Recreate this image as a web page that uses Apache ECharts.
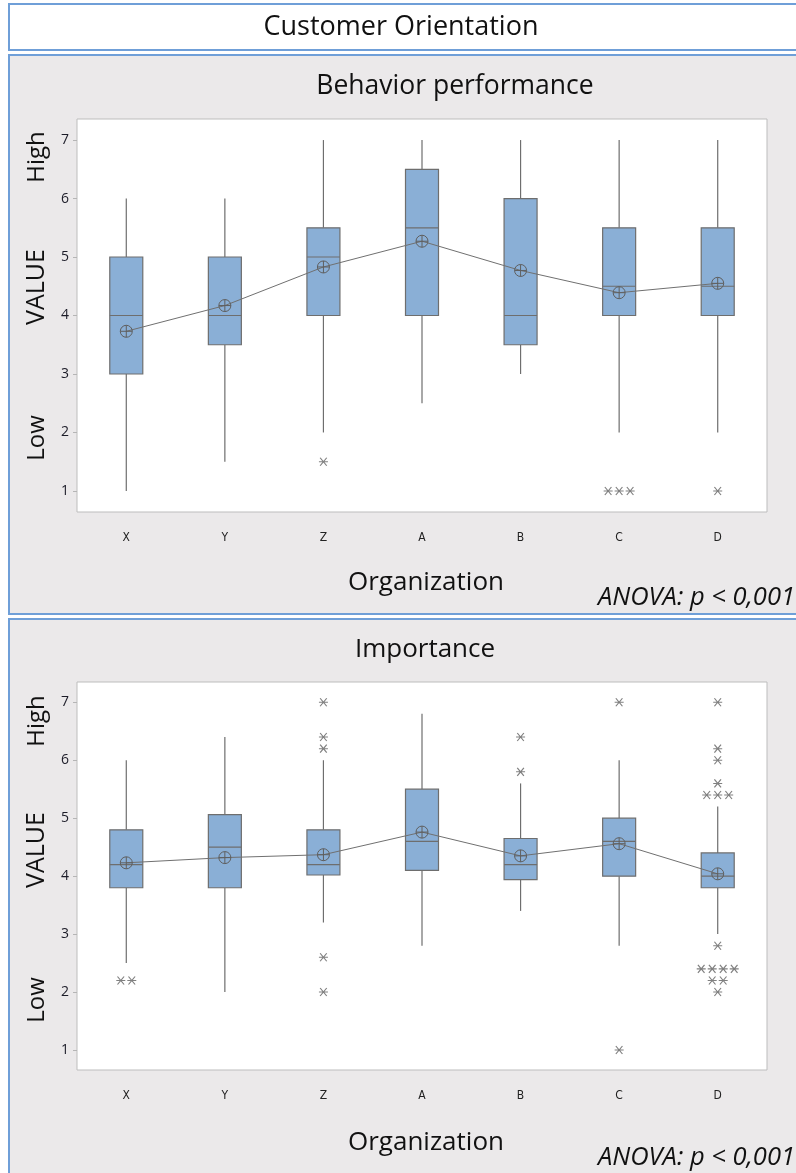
<!DOCTYPE html>
<html>
<head>
<meta charset="utf-8">
<title>Customer Orientation</title>
<script src="https://cdn.jsdelivr.net/npm/echarts@6/dist/echarts.min.js"></script>
<style>
    html, body { margin: 0; padding: 0; background: #fff; }
    #chart { width: 796px; height: 1173px; }
</style>
</head>
<body>
<div id="chart"></div>
<script>
// 数据
const organizations = ['X', 'Y', 'Z', 'A', 'B', 'C', 'D'];
const yTicks = [1, 2, 3, 4, 5, 6, 7];

// [min, Q1, median, Q3, max]
const perfBoxes = [
    [1, 3, 4, 5, 6],
    [1.5, 3.5, 4, 5, 6],
    [2, 4, 5, 5.5, 7],
    [2.5, 4, 5.5, 6.5, 7],
    [3, 3.5, 4, 6, 7],
    [2, 4, 4.5, 5.5, 7],
    [2, 4, 4.5, 5.5, 7]
];
const perfMeans = [3.73, 4.17, 4.83, 5.27, 4.77, 4.39, 4.55];
// [category index, value]
const perfOutliers = [[2, 1.5], [5, 1], [5, 1], [5, 1], [6, 1]];

const impBoxes = [
    [2.5, 3.8, 4.2, 4.8, 6],
    [2, 3.8, 4.5, 5.06, 6.4],
    [3.2, 4.02, 4.2, 4.8, 6],
    [2.8, 4.1, 4.6, 5.5, 6.8],
    [3.4, 3.94, 4.2, 4.65, 5.6],
    [2.8, 4, 4.6, 5, 6],
    [3, 3.8, 4, 4.4, 5.2]
];
const impMeans = [4.23, 4.32, 4.37, 4.76, 4.35, 4.56, 4.04];
const impOutliers = [
    [0, 2.2], [0, 2.2],
    [2, 7], [2, 6.4], [2, 6.2], [2, 2.6], [2, 2],
    [4, 6.4], [4, 5.8],
    [5, 7], [5, 1],
    [6, 7], [6, 6.2], [6, 6], [6, 5.6], [6, 5.4], [6, 5.4], [6, 5.4],
    [6, 2.8], [6, 2.4], [6, 2.4], [6, 2.4], [6, 2.4], [6, 2.2], [6, 2.2], [6, 2]
];

// 样式
const FONT = '"Open Sans", "Noto Sans", sans-serif';
const BORDER_BLUE = '#6f9fd8';
const PANEL_BG = '#ebe9ea';
const BOX_FILL = '#8aafd6';
const LINE_GREY = '#6e6e6e';
const BOX_WIDTH = 33;
const STAR = 'path://M-4.5,0L4.5,0M-3.3,-4L3.3,4M-3.3,4L3.3,-4';
const MEAN_SYMBOL = 'path://M-6,0A6,6 0 1,0 6,0A6,6 0 1,0 -6,0ZM-6,0L6,0M0,-6L0,6';

// 相同数值的异常值左右排开
function spreadOutliers(list) {
    const counts = {};
    list.forEach(p => { const k = p.join('_'); counts[k] = (counts[k] || 0) + 1; });
    const seen = {};
    return list.map(p => {
        const k = p.join('_');
        const n = counts[k];
        const i = seen[k] = (seen[k] === undefined ? 0 : seen[k] + 1);
        return { value: p, symbolOffset: [(i - (n - 1) / 2) * 11, 0] };
    });
}

// 箱线图（须线无端帽）
function renderBox(params, api) {
    const x = api.value(0);
    const lo = api.coord([x, api.value(1)]);
    const q1 = api.coord([x, api.value(2)]);
    const med = api.coord([x, api.value(3)]);
    const q3 = api.coord([x, api.value(4)]);
    const hi = api.coord([x, api.value(5)]);
    const cx = lo[0];
    const half = BOX_WIDTH / 2;
    const stroke = { stroke: LINE_GREY, lineWidth: 1.2 };
    return {
        type: 'group',
        children: [
            { type: 'line', shape: { x1: cx, y1: lo[1], x2: cx, y2: q1[1] }, style: stroke },
            { type: 'line', shape: { x1: cx, y1: q3[1], x2: cx, y2: hi[1] }, style: stroke },
            { type: 'rect', shape: { x: cx - half, y: q3[1], width: BOX_WIDTH, height: q1[1] - q3[1] }, style: { fill: BOX_FILL, stroke: LINE_GREY, lineWidth: 1.2 } },
            { type: 'line', shape: { x1: cx - half, y1: med[1], x2: cx + half, y2: med[1] }, style: stroke }
        ]
    };
}

function panelSeries(idx, boxes, means, outliers) {
    return [
        {
            type: 'custom',
            xAxisIndex: idx,
            yAxisIndex: idx,
            data: boxes.map((b, i) => [i].concat(b)),
            encode: { x: 0, y: [1, 2, 3, 4, 5] },
            renderItem: renderBox,
            z: 2
        },
        {
            type: 'line',
            xAxisIndex: idx,
            yAxisIndex: idx,
            data: means,
            symbol: MEAN_SYMBOL,
            symbolSize: 12,
            showAllSymbol: true,
            lineStyle: { color: '#707070', width: 1 },
            itemStyle: { color: 'transparent', borderColor: '#5f5f5f', borderWidth: 1 },
            emphasis: { disabled: true },
            z: 3
        },
        {
            type: 'scatter',
            xAxisIndex: idx,
            yAxisIndex: idx,
            data: spreadOutliers(outliers),
            symbol: STAR,
            symbolSize: [9, 8],
            itemStyle: { color: 'none', borderColor: '#606060', borderWidth: 1.1 },
            emphasis: { disabled: true },
            z: 4
        }
    ];
}

function xAxisFor(idx) {
    return {
        type: 'category',
        gridIndex: idx,
        data: organizations,
        boundaryGap: true,
        axisLine: { show: false },
        axisTick: { alignWithLabel: true, length: 5, lineStyle: { color: '#b5b5b5' } },
        axisLabel: {
            margin: 20,
            fontSize: 12,
            color: '#222',
            fontFamily: '"Liberation Sans Narrow", "DejaVu Sans Condensed", sans-serif'
        },
        splitLine: { show: false }
    };
}

function yAxisFor(idx, min, max) {
    return {
        type: 'value',
        gridIndex: idx,
        min: min,
        max: max,
        axisLine: { show: false },
        axisTick: { show: true, length: 4, customValues: yTicks, lineStyle: { color: '#b5b5b5' } },
        axisLabel: { margin: 8, fontSize: 14, color: '#1c1c28', fontFamily: FONT, customValues: yTicks },
        splitLine: { show: false }
    };
}

function text(str, x, y, size, opts) {
    opts = opts || {};
    return {
        type: 'text',
        x: x,
        y: y,
        rotation: opts.rotate ? Math.PI / 2 : 0,
        style: {
            text: str,
            fill: '#111',
            font: (opts.italic ? 'italic ' : '') + size + 'px ' + FONT,
            textAlign: opts.align || 'center',
            textVerticalAlign: 'middle'
        },
        z: 10
    };
}

const chart = echarts.init(document.getElementById('chart'));

chart.setOption({
    animation: false,
    grid: [
        { left: 77, top: 119, width: 690, height: 393, show: true, backgroundColor: '#fff', borderColor: '#bdbdbd', borderWidth: 1 },
        { left: 77, top: 682, width: 690, height: 388, show: true, backgroundColor: '#fff', borderColor: '#bdbdbd', borderWidth: 1 }
    ],
    xAxis: [xAxisFor(0), xAxisFor(1)],
    yAxis: [yAxisFor(0, 0.64, 7.36), yAxisFor(1, 0.655, 7.35)],
    series: [
        ...panelSeries(0, perfBoxes, perfMeans, perfOutliers),
        ...panelSeries(1, impBoxes, impMeans, impOutliers)
    ],
    graphic: [
        // 标题框和面板背景
        { type: 'rect', shape: { x: 9, y: 4, width: 800, height: 46 }, style: { fill: '#fff', stroke: BORDER_BLUE, lineWidth: 2 }, z: -100 },
        { type: 'rect', shape: { x: 9, y: 55, width: 800, height: 559 }, style: { fill: PANEL_BG, stroke: BORDER_BLUE, lineWidth: 2 }, z: -100 },
        { type: 'rect', shape: { x: 9, y: 619, width: 800, height: 570 }, style: { fill: PANEL_BG, stroke: BORDER_BLUE, lineWidth: 2 }, z: -100 },

        text('Customer Orientation', 401, 27, 27),

        text('Behavior performance', 455, 86, 26.5),
        text('High', 37, 157, 24, { rotate: true }),
        text('VALUE', 37, 287, 25, { rotate: true }),
        text('Low', 37, 438, 24, { rotate: true }),
        text('Organization', 426, 583, 26),
        text('ANOVA: p < 0,001', 795, 598, 25.5, { italic: true, align: 'right' }),

        text('Importance', 425, 650, 26),
        text('High', 37, 721, 24, { rotate: true }),
        text('VALUE', 37, 850, 25, { rotate: true }),
        text('Low', 37, 1000, 24, { rotate: true }),
        text('Organization', 426, 1143, 26),
        text('ANOVA: p < 0,001', 795, 1158, 25.5, { italic: true, align: 'right' })
    ]
});

window.addEventListener('resize', () => chart.resize());
</script>
</body>
</html>
